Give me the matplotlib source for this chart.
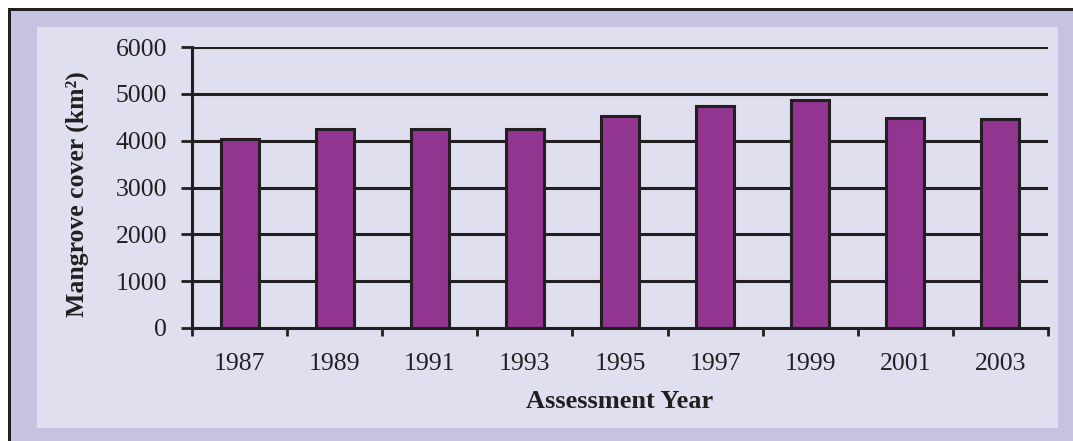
import matplotlib
matplotlib.use("Agg")
import matplotlib.pyplot as plt
from matplotlib.patches import Rectangle
import numpy as np

years = ["1987", "1989", "1991", "1993", "1995", "1997", "1999", "2001", "2003"]
cover = [4046, 4255, 4244, 4256, 4533, 4737, 4871, 4482, 4461]
yticks = [0, 1000, 2000, 3000, 4000, 5000, 6000]

W, H = 1073, 441
fig = plt.figure(figsize=(W/100, H/100), dpi=100, facecolor="white")
plt.rcParams['font.family'] = ['Liberation Serif', 'DejaVu Serif']

# outer frame
fig.patches.append(Rectangle((8/W, 0), 1 - 8/W, 1 - 8/H, transform=fig.transFigure,
                             facecolor="#c6c3e0", edgecolor="none", zorder=-10))
fig.patches.append(Rectangle((8/W, 0), 3/W, 1 - 8/H, transform=fig.transFigure,
                             facecolor="#231f20", edgecolor="none", zorder=-9))
fig.patches.append(Rectangle((8/W, 1 - 11/H), 1 - 8/W, 3/H, transform=fig.transFigure,
                             facecolor="#231f20", edgecolor="none", zorder=-9))
# inner panel
fig.patches.append(Rectangle((37/W, 1 - 428/H), (1058-37)/W, (428-27)/H, transform=fig.transFigure,
                             facecolor="#e0dff0", edgecolor="none", zorder=-8))

ax = fig.add_axes([192/W, 1 - 328/H, (1048-192)/W, (328-47)/H])
ax.set_facecolor("none")
x = np.arange(len(years))
ax.bar(x, cover, width=0.4, color="#923591", edgecolor="#231f20", linewidth=2.2, zorder=3)

ax.set_xlim(-0.5, len(years) - 0.5)
ax.set_ylim(0, 6000)
ax.set_yticks(yticks)
ax.set_yticklabels([str(v) for v in yticks], fontsize=18.5, color="#231f20")
ax.set_xticks(x)
ax.set_xticklabels(years, fontsize=18.5, color="#231f20")
ax.set_xticks(np.arange(-0.5, len(years), 1.0), minor=True)
ax.tick_params(axis='x', which='major', length=0, pad=18)
ax.tick_params(axis='x', which='minor', length=6, width=2, color="#231f20", direction='out')
ax.tick_params(axis='y', length=8, width=2, color="#231f20", direction='out', pad=10)

for v in yticks[1:]:
    ax.axhline(v, color="#231f20", linewidth=2.2, zorder=2)

for s in ["top", "right"]:
    ax.spines[s].set_visible(False)
for s in ["left", "bottom"]:
    ax.spines[s].set_color("#231f20")
    ax.spines[s].set_linewidth(2.2)
    ax.spines[s].set_zorder(4)

ax.set_ylabel("Mangrove cover (km²)", fontsize=18.5, fontweight='bold', color="#231f20", labelpad=19)
ax.yaxis.label.set_y(0.475)
ax.set_xlabel("Assessment Year", fontsize=19, fontweight='bold', color="#231f20", labelpad=11)

fig.savefig("out.png", dpi=100, facecolor="white")
